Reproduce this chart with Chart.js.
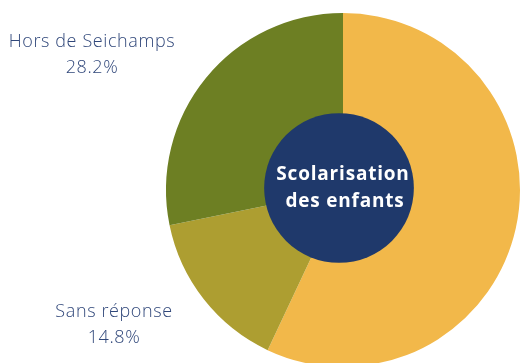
<!DOCTYPE html>
<html>
<head>
<meta charset="utf-8">
<script src="https://cdn.jsdelivr.net/npm/chart.js@4"></script>
<style>
  html, body { margin: 0; padding: 0; background: #fff; overflow: hidden; }
  #wrap { position: relative; width: 520px; height: 380px; }
</style>
</head>
<body>
<div id="wrap"><canvas id="chart"></canvas></div>
<script>
const categories = ['Seichamps', 'Sans réponse', 'Hors de Seichamps'];
const shares = [57.0, 14.8, 28.2];
const colors = ['#F2B84A', '#AD9E31', '#6D7F23'];
const centerTitle = ['Scolarisation', 'des enfants'];

const textBlue = '#30477A';

// outside labels for the left-hand slices, and the round title badge
const decor = {
  id: 'decor',
  afterDatasetsDraw(chart) {
    const ctx = chart.ctx;
    const arc = chart.getDatasetMeta(0).data[0];
    const cx = arc.x, cy = arc.y, r = arc.outerRadius;

    ctx.save();
    ctx.beginPath();
    ctx.arc(cx - 4, cy - 2, r * 0.423, 0, Math.PI * 2);
    ctx.fillStyle = '#1F396B';
    ctx.fill();

    ctx.fillStyle = '#fff';
    ctx.textAlign = 'center';
    ctx.textBaseline = 'middle';
    ctx.letterSpacing = '0.8px';
    ctx.font = 'bold 19px "Open Sans"';
    ctx.fillText(centerTitle[0], cx, cy - 15);
    ctx.fillText(centerTitle[1], cx + 2, cy + 12);

    ctx.fillStyle = textBlue;
    ctx.letterSpacing = '0.6px';
    ctx.font = '300 18px "Open Sans"';
    ctx.fillText(categories[2], 92, 42);
    ctx.fillText(shares[2].toFixed(1) + '%', 92, 68);
    ctx.fillText(categories[1], 114, 312);
    ctx.fillText(shares[1].toFixed(1) + '%', 114, 338);
    ctx.restore();
  }
};

new Chart(document.getElementById('chart'), {
  type: 'pie',
  data: {
    labels: categories,
    datasets: [{ data: shares, backgroundColor: colors, borderWidth: 0 }],
  },
  options: {
    responsive: true,
    maintainAspectRatio: false,
    animation: false,
    layout: { padding: { left: 166, top: 13, right: 0, bottom: 13 } },
    plugins: { legend: { display: false }, tooltip: { enabled: false } },
  },
  plugins: [decor],
});
</script>
</body>
</html>
